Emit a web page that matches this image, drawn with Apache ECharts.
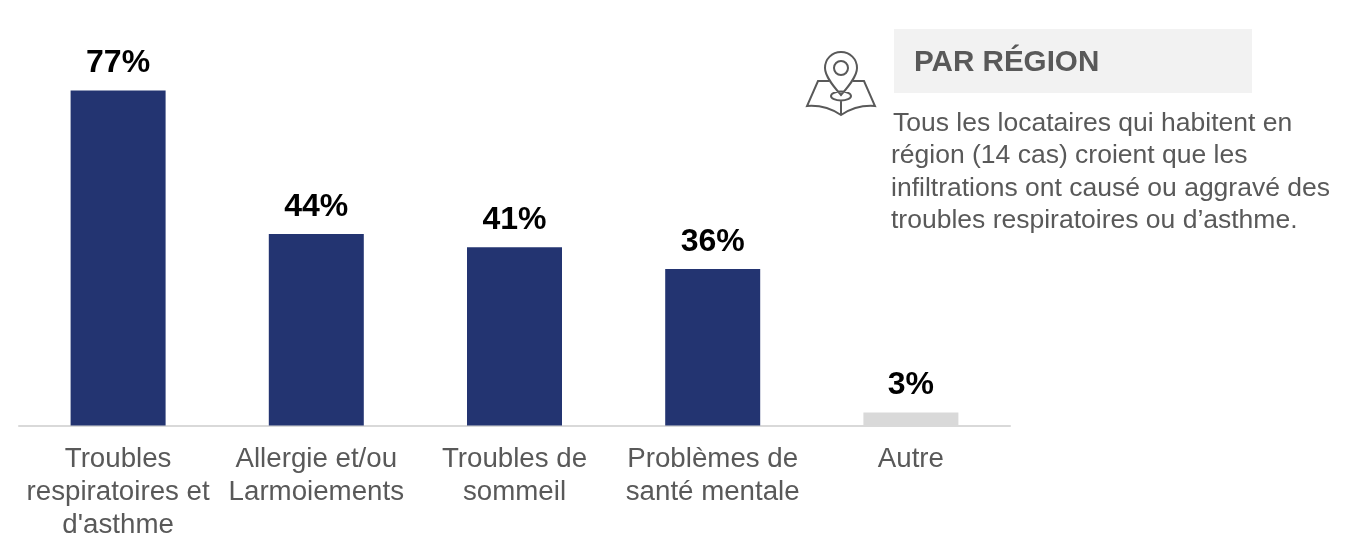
<!DOCTYPE html>
<html>
<head>
<meta charset="utf-8">
<style>
  html, body { margin: 0; padding: 0; background: #fff; }
  #chart { width: 1360px; height: 535px; }
</style>
<script src="https://cdn.jsdelivr.net/npm/echarts@6/dist/echarts.min.js"></script>
</head>
<body>
<div id="chart"></div>
<script>
var categories = ["Troubles\nrespiratoires et\nd'asthme", "Allergie et/ou\nLarmoiements", "Troubles de\nsommeil", "Problèmes de\nsanté mentale", "Autre"];
var values = [77, 44, 41, 36, 3];
var barColors = ['#233471', '#233471', '#233471', '#233471', '#D9D9D9'];
var panelTitle = 'PAR RÉGION';
var panelFirstLine = 'Tous les locataires qui habitent en';
var panelLines = [
  'région (14 cas) croient que les',
  'infiltrations ont causé ou aggravé des',
  'troubles respiratoires ou d’asthme.'
];

var font = '"Liberation Sans", Arial, sans-serif';
var myChart = echarts.init(document.getElementById('chart'), null, {renderer: 'canvas'});

// map pin icon
var iconPath = 'M841 52C832 52 825 59 825 68C825 77 835 88 841 95C847 88 857 77 857 68C857 59 850 52 841 52Z' +
  'M848 68A7 7 0 1 1 834 68A7 7 0 1 1 848 68Z' +
  'M851 96A10 4.5 0 1 1 831 96A10 4.5 0 1 1 851 96Z' +
  'M829 81L818 81L807 106C820 105 832 109 841 115C850 109 862 105 875 106L864 81L853 81' +
  'M841 100L841 115';
echarts.graphic.registerShape('mapIcon', echarts.graphic.extendPath(iconPath, {}));

myChart.setOption({
  animation: false,
  grid: {left: 19, top: 77.5, width: 991, height: 348, containLabel: false, outerBoundsMode: 'none'},
  xAxis: {
    type: 'category',
    data: categories,
    axisLine: {lineStyle: {color: '#D9D9D9', width: 2}},
    axisTick: {show: false},
    axisLabel: {
      interval: 0,
      color: '#595959',
      fontFamily: font,
      fontSize: 27.7,
      lineHeight: 33,
      margin: 17.5
    }
  },
  yAxis: {type: 'value', min: 0, max: 80, show: false, splitLine: {show: false}},
  series: [{
    type: 'bar',
    barWidth: 95,
    data: values.map(function (v, i) {
      return {value: v, itemStyle: {color: barColors[i]}};
    }),
    label: {
      show: true,
      position: 'top',
      distance: 11,
      formatter: '{c}%',
      color: '#000',
      fontFamily: font,
      fontSize: 32,
      fontWeight: 'bold'
    }
  }],
  graphic: [
    {type: 'rect', shape: {x: 894, y: 29, width: 358, height: 64}, style: {fill: '#F2F2F2'}},
    {type: 'text', x: 914, y: 63, style: {text: panelTitle, fill: '#595959', font: 'bold 29.6px ' + font, textVerticalAlign: 'middle'}},
    {type: 'mapIcon', style: {stroke: '#595959', lineWidth: 2, fill: null}},
    {type: 'text', x: 893, y: 107, style: {text: panelFirstLine, fill: '#595959', font: '26.5px ' + font, lineHeight: 32.5}},
    {type: 'text', x: 891, y: 139.5, style: {text: panelLines.join('\n'), fill: '#595959', font: '26.5px ' + font, lineHeight: 32.5}}
  ]
});
</script>
</body>
</html>
